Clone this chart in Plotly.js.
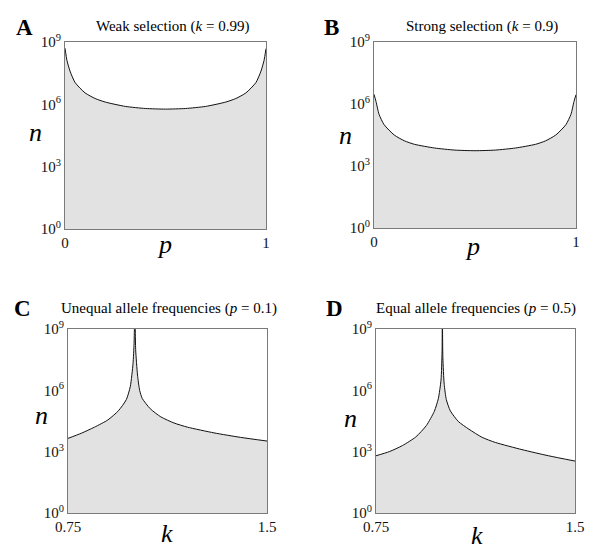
<!DOCTYPE html>
<html>
<head>
<meta charset="utf-8">
<script src="https://cdn.plot.ly/plotly-3.0.1.min.js"></script>
<style>html,body{margin:0;padding:0;background:#fff;}#chart{width:600px;height:557px;}</style>
</head>
<body>
<div id="chart"></div>
<script>
// ---- Data (n given as log10 exponents) ----
const pA = [0, 0.01, 0.025, 0.05, 0.1, 0.15, 0.2, 0.3, 0.4, 0.5, 0.6, 0.7, 0.8, 0.85, 0.9, 0.95, 0.975, 0.99, 1];
const expA = [8.7, 8.1, 7.6, 7.05, 6.55, 6.28, 6.11, 5.9, 5.8, 5.77, 5.8, 5.9, 6.11, 6.28, 6.55, 7.05, 7.6, 8.1, 8.68];

const pB = [0, 0.01, 0.025, 0.05, 0.1, 0.15, 0.2, 0.3, 0.4, 0.5, 0.6, 0.7, 0.8, 0.85, 0.9, 0.95, 0.975, 0.99, 1];
const expB = [6.47, 6.12, 5.5, 5.0, 4.5, 4.22, 4.05, 3.87, 3.77, 3.74, 3.77, 3.87, 4.05, 4.22, 4.5, 5.0, 5.5, 6.12, 6.45];

const kC = [0.75, 0.8, 0.85, 0.9, 0.94, 0.97, 0.985, 0.995, 0.999, 1.002, 1.005, 1.012, 1.02, 1.03, 1.06, 1.1, 1.15, 1.2, 1.3, 1.4, 1.5];
const expC = [3.65, 3.9, 4.2, 4.55, 5.0, 5.55, 6.2, 7.3, 8.3, 10, 8.0, 6.75, 6.0, 5.6, 5.1, 4.7, 4.4, 4.2, 3.92, 3.7, 3.52];

const kD = [0.75, 0.8, 0.85, 0.9, 0.94, 0.97, 0.985, 0.995, 0.999, 1.0, 1.002, 1.007, 1.015, 1.03, 1.06, 1.1, 1.15, 1.2, 1.3, 1.4, 1.5];
const expD = [2.8, 3.0, 3.3, 3.72, 4.28, 4.98, 5.6, 6.5, 7.9, 10, 7.6, 6.3, 5.55, 5.0, 4.48, 4.1, 3.7, 3.45, 3.1, 2.8, 2.54];

const yTickVals = [1, 1e3, 1e6, 1e9];
const yTickText = ['10<sup>0</sup>', '10<sup>3</sup>', '10<sup>6</sup>', '10<sup>9</sup>'];
const xTickValsP = [0, 1];
const xTickTextP = ['0', '1'];
const xTickValsK = [0.75, 1.5];
const xTickTextK = ['0.75', '1.5'];

const panelLetters = ['A', 'B', 'C', 'D'];
const panelTitles = [
  'Weak selection (<i>k</i> = 0.99)',
  'Strong selection (<i>k</i> = 0.9)',
  'Unequal allele frequencies (<i>p</i> = 0.1)',
  'Equal allele frequencies (<i>p</i> = 0.5)'
];
const xTitles = ['p', 'p', 'k', 'k'];
const yTitle = 'n';

// ---- Build ----
const toN = e => e.map(v => Math.pow(10, v));
const series = [
  {x: pA, y: toN(expA), xr: [0, 1]},
  {x: pB, y: toN(expB), xr: [0, 1]},
  {x: kC, y: toN(expC), xr: [0.75, 1.5]},
  {x: kD, y: toN(expD), xr: [0.75, 1.5]}
];
const yMinExp = 0, yMaxExp = 9;

const traces = [];
series.forEach((s, i) => {
  const xa = i === 0 ? 'x' : 'x' + (i + 1);
  const ya = i === 0 ? 'y' : 'y' + (i + 1);
  traces.push({x: s.xr, y: [Math.pow(10, yMinExp), Math.pow(10, yMinExp)], xaxis: xa, yaxis: ya,
    mode: 'lines', line: {width: 0, color: 'rgba(0,0,0,0)'}, hoverinfo: 'skip', showlegend: false});
  traces.push({x: s.x, y: s.y, xaxis: xa, yaxis: ya, mode: 'lines',
    line: {color: '#111', width: 1, shape: 'spline', smoothing: 0.6},
    fill: 'tonexty', fillcolor: '#e2e2e2', showlegend: false});
});

const W = 600, H = 557;
const px = v => v / W, py = v => 1 - v / H;

const boxes = [
  {l: 65, r: 266, t: 42, b: 229},
  {l: 374, r: 576, t: 42, b: 228},
  {l: 68, r: 267, t: 329, b: 513},
  {l: 376, r: 575, t: 329, b: 513}
];

const serif = "'Liberation Serif', 'Times New Roman', Times, serif";
const tickFont = {family: serif, size: 15, color: '#111'};
const layout = {
  width: W, height: H,
  margin: {l: 0, r: 0, t: 0, b: 0},
  paper_bgcolor: '#fff', plot_bgcolor: '#fff',
  showlegend: false,
  font: {family: serif},
  annotations: []
};

boxes.forEach((b, i) => {
  const sfx = i === 0 ? '' : String(i + 1);
  const isK = i >= 2;
  layout['xaxis' + sfx] = {
    domain: [px(b.l), px(b.r)], anchor: 'y' + sfx, range: series[i].xr,
    tickvals: isK ? xTickValsK : xTickValsP, ticktext: isK ? xTickTextK : xTickTextP,
    showline: true, mirror: true, linecolor: '#7a7a7a', linewidth: 1,
    ticks: '', showgrid: false, zeroline: false, tickfont: tickFont, fixedrange: true
  };
  layout['yaxis' + sfx] = {
    domain: [py(b.b), py(b.t)], anchor: 'x' + sfx, type: 'log', range: [yMinExp, yMaxExp],
    tickvals: yTickVals, ticktext: yTickText,
    showline: true, mirror: true, linecolor: '#7a7a7a', linewidth: 1,
    ticks: '', showgrid: false, zeroline: false, tickfont: tickFont, fixedrange: true
  };
});

const letterPos = [[24, 27], [331, 27], [22, 308], [334, 308]];
const titlePos = [[172, 26], [482, 26], [169, 308], [476, 308]];
const yTitlePos = [[35, 133], [345, 135], [41, 415], [350, 418]];
const xTitlePos = [[164, 244], [472, 247], [167, 533], [477, 535]];

for (let i = 0; i < 4; i++) {
  layout.annotations.push({text: '<b>' + panelLetters[i] + '</b>', x: px(letterPos[i][0]), y: py(letterPos[i][1]),
    xref: 'paper', yref: 'paper', showarrow: false, xanchor: 'center', yanchor: 'middle',
    font: {family: serif, size: 23, color: '#000'}});
  layout.annotations.push({text: panelTitles[i], x: px(titlePos[i][0]), y: py(titlePos[i][1]),
    xref: 'paper', yref: 'paper', showarrow: false, xanchor: 'center', yanchor: 'middle',
    font: {family: serif, size: 15, color: '#000'}});
  layout.annotations.push({text: '<i>' + yTitle + '</i>', x: px(yTitlePos[i][0]), y: py(yTitlePos[i][1]),
    xref: 'paper', yref: 'paper', showarrow: false, xanchor: 'center', yanchor: 'middle',
    font: {family: serif, size: 26, color: '#000'}});
  layout.annotations.push({text: '<i>' + xTitles[i] + '</i>', x: px(xTitlePos[i][0]), y: py(xTitlePos[i][1]),
    xref: 'paper', yref: 'paper', showarrow: false, xanchor: 'center', yanchor: 'middle',
    font: {family: serif, size: 26, color: '#000'}});
}

Plotly.newPlot('chart', traces, layout, {displayModeBar: false});
</script>
</body>
</html>
